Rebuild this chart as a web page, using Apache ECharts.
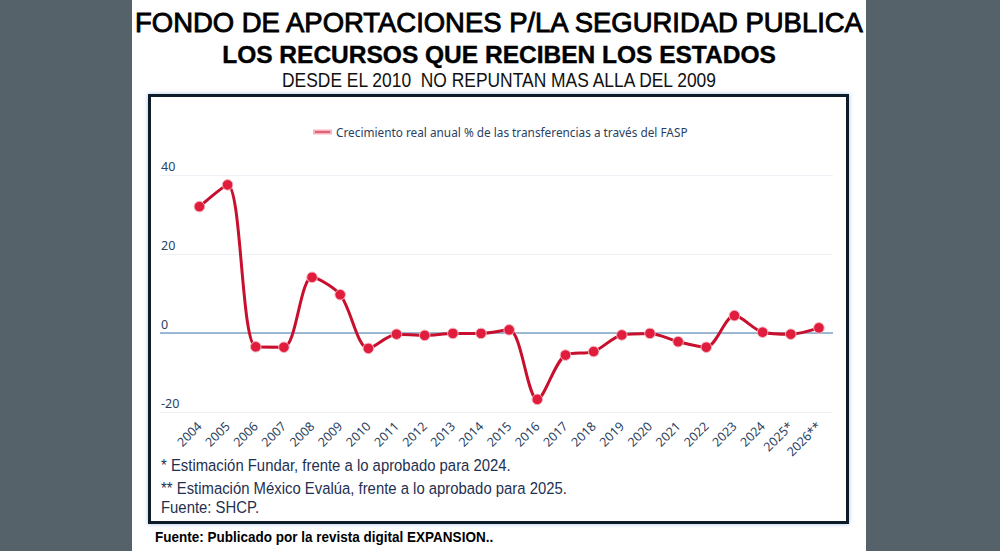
<!DOCTYPE html>
<html>
<head>
<meta charset="utf-8">
<script src="https://cdn.jsdelivr.net/npm/echarts@6/dist/echarts.min.js"></script>
<style>
  html, body { margin: 0; padding: 0; background: #56626a; }
  #chart { width: 1000px; height: 551px; }
</style>
</head>
<body>
<div id="chart"></div>
<script>
// ── data ──
const years = ['2004', '2005', '2006', '2007', '2008', '2009', '2010', '2011', '2012', '2013', '2014', '2015',
  '2016', '2017', '2018', '2019', '2020', '2021', '2022', '2023', '2024', '2025*', '2026**']
const growth = [32.0, 37.5, -3.5, -3.6, 14.1, 9.7, -3.9, -0.3, -0.6, -0.1, -0.1, 0.8,
  -16.8, -5.6, -4.7, -0.5, -0.1, -2.2, -3.6, 4.4, 0.2, -0.3, 1.3]
const yTicks = [-20, 0, 20, 40]

const seriesName = 'Crecimiento real anual % de las transferencias a través del FASP'
const titleLines = [
  'FONDO DE APORTACIONES P/LA SEGURIDAD PUBLICA',
  'LOS RECURSOS QUE RECIBEN LOS ESTADOS',
  'DESDE EL 2010  NO REPUNTAN MAS ALLA DEL 2009'
]
const notes = [
  '* Estimación Fundar, frente a lo aprobado para 2024.',
  '** Estimación México Evalúa, frente a lo aprobado para 2025.',
  'Fuente: SHCP.'
]
const sourceNote = 'Fuente: Publicado por la revista digital EXPANSION..'

// ── style tokens ──
const navy = '#2a3f5f'
const red = '#c8102e'
const labelFont = '"Noto Sans", "Open Sans", sans-serif'
const sans = '"Liberation Sans", Arial, sans-serif'

// condensed text helper (no narrow face installed -> squeeze horizontally)
function squeezed(x, y, text, font, fill, sx, extra) {
  return {
    type: 'text', x, y, scaleX: sx, z: 10,
    style: Object.assign({ text, font, fill, textVerticalAlign: 'middle' }, extra || {})
  }
}

const chart = echarts.init(document.getElementById('chart'), null, { renderer: 'svg' })

chart.setOption({
  animation: false,
  backgroundColor: 'transparent',
  graphic: [
    // white panel
    { type: 'rect', z: -10, shape: { x: 132, y: 0, width: 734, height: 551 }, style: { fill: '#ffffff' } },
    // framed chart box
    {
      type: 'rect', z: -5,
      shape: { x: 149.5, y: 95.5, width: 698, height: 427 },
      style: { fill: '#ffffff', stroke: '#0f1a2c', lineWidth: 3, shadowColor: 'rgba(90,140,210,0.55)', shadowBlur: 4 }
    },
    squeezed(499, 22, titleLines[0], '28px ' + sans, '#000', 0.98, { textAlign: 'center', stroke: '#000', lineWidth: 0.9 }),
    squeezed(499, 54, titleLines[1], 'bold 24.5px ' + sans, '#000', 1, { textAlign: 'center', stroke: '#000', lineWidth: 0.4 }),
    squeezed(499, 80, titleLines[2], '21px ' + sans, '#111', 0.83, { textAlign: 'center' }),
    squeezed(161, 465, notes[0], '17px ' + sans, '#1f3050', 0.875),
    squeezed(161, 488, notes[1], '17px ' + sans, '#1f3050', 0.875),
    squeezed(161, 507, notes[2], '17px ' + sans, '#1f3050', 0.875),
    squeezed(155, 537, sourceNote, 'bold 14px ' + sans, '#000', 0.965)
  ],
  legend: {
    left: 308,
    top: 121,
    icon: 'rect',
    itemWidth: 17,
    itemHeight: 3,
    itemGap: 8,
    textStyle: { color: navy, fontSize: 11.8, fontFamily: labelFont },
    data: [{ name: seriesName, itemStyle: { color: red } }]
  },
  grid: { left: 160, right: 167, top: 175, bottom: 139 },
  xAxis: {
    type: 'value',
    min: -1.4,
    max: 22.5,
    splitLine: { show: false },
    axisLine: { show: false },
    axisTick: { show: false },
    axisLabel: {
      customValues: years.map((_, i) => i),
      formatter: v => years[v],
      rotate: 45,
      margin: 12,
      color: navy,
      fontSize: 12.5,
      fontFamily: labelFont
    }
  },
  yAxis: {
    type: 'value',
    min: yTicks[0],
    max: yTicks[yTicks.length - 1],
    interval: 20,
    axisLine: { show: false },
    axisTick: { show: false },
    splitLine: { lineStyle: { color: '#eef2f7', width: 1 } },
    axisLabel: {
      inside: true,
      margin: 1,
      verticalAlign: 'bottom',
      padding: [0, 0, 2, 0],
      color: navy,
      fontSize: 12.5,
      fontFamily: labelFont
    }
  },
  series: [{
    name: seriesName,
    type: 'line',
    smooth: 0.3,
    data: growth.map((v, i) => [i, v]),
    symbol: 'circle',
    symbolSize: 10.5,
    lineStyle: { color: red, width: 3 },
    itemStyle: { color: '#e01d3c', borderColor: '#f6b3bf', borderWidth: 1 },
    markLine: {
      silent: true,
      symbol: 'none',
      label: { show: false },
      lineStyle: { color: '#7ea3c6', width: 1.5, type: 'solid' },
      data: [{ yAxis: 0 }],
      z: 1
    },
    z: 3
  }]
})
</script>
</body>
</html>
